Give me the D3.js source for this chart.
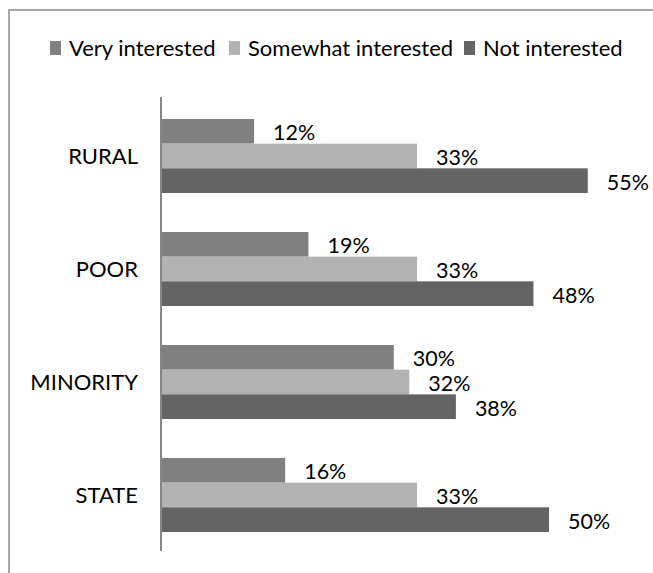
<!DOCTYPE html>
<html>
<head>
<meta charset="utf-8">
<script src="https://cdn.jsdelivr.net/npm/d3@7"></script>
<style>
  html, body { margin: 0; padding: 0; background: #fff; }
  svg { display: block; }
  text { font-family: Lato, "Open Sans", sans-serif; fill: #000; }
</style>
</head>
<body>
<svg id="chart" width="653" height="573"></svg>
<script>
// Survey categories (top to bottom)
const categories = ["RURAL", "POOR", "MINORITY", "STATE"];
// Series names, in legend / bar order
const seriesNames = ["Very interested", "Somewhat interested", "Not interested"];
// Percent values per category, one array per series
const veryInterested     = [12, 19, 30, 16];
const somewhatInterested = [33, 33, 32, 33];
const notInterested      = [55, 48, 38, 50];
const seriesColors = ["#808080", "#b3b3b3", "#646464"];

const seriesValues = [veryInterested, somewhatInterested, notInterested];
const rows = categories.map((c, i) => ({
  category: c,
  values: seriesNames.map((s, j) => ({ series: s, idx: j, value: seriesValues[j][i] }))
}));

const svg = d3.select("#chart");

// Outer frame
svg.append("rect")
  .attr("x", 9).attr("y", 10)
  .attr("width", 700).attr("height", 700)
  .attr("fill", "none")
  .attr("stroke", "#a6a6a6")
  .attr("stroke-width", 2);

// Scales
const x = d3.scaleLinear().domain([0, 60]).range([161, 626.6]);
const y = d3.scaleBand()
  .domain(categories)
  .range([99.5, 551.5])
  .paddingInner(0.345)
  .paddingOuter(0.1725);
const ySub = d3.scaleBand()
  .domain(seriesNames)
  .range([0, y.bandwidth()]);
const color = d3.scaleOrdinal().domain(seriesNames).range(seriesColors);

// Bars
const groups = svg.append("g").selectAll("g")
  .data(rows)
  .join("g")
  .attr("transform", d => `translate(0,${y(d.category)})`);

groups.selectAll("rect")
  .data(d => d.values)
  .join("rect")
  .attr("x", x(0))
  .attr("y", d => ySub(d.series))
  .attr("width", d => x(d.value) - x(0))
  .attr("height", ySub.bandwidth())
  .attr("fill", d => color(d.series));

// Value labels
groups.selectAll("text.value")
  .data(d => d.values)
  .join("text")
  .attr("class", "value")
  .attr("x", d => x(d.value) + 19)
  .attr("y", d => ySub(d.series) + ySub.bandwidth() / 2 + 1.5)
  .attr("dy", "0.35em")
  .attr("font-size", 21.5)
  .text(d => d.value + "%");

// Category axis (line only, labels on the left)
const yAxis = d3.axisLeft(y).tickSize(0).tickPadding(23);
const axisG = svg.append("g")
  .attr("transform", `translate(${x(0)},0)`)
  .call(yAxis);
axisG.select(".domain")
  .attr("d", `M0,97V551`)
  .attr("stroke", "#868686")
  .attr("stroke-width", 2);
axisG.selectAll(".tick text")
  .attr("font-family", "Lato, 'Open Sans', sans-serif")
  .attr("font-size", 22)
  .attr("fill", "#000")
  .attr("dy", "0.35em");

// Legend
const legendX = [50, 229, 464];
const legend = svg.append("g").selectAll("g")
  .data(seriesNames)
  .join("g")
  .attr("transform", (d, i) => `translate(${legendX[i]},41)`);
legend.append("rect")
  .attr("width", 11).attr("height", 14)
  .attr("fill", d => color(d));
legend.append("text")
  .attr("x", 19)
  .attr("y", 7)
  .attr("dy", "0.35em")
  .attr("font-size", 22)
  .text(d => d);
</script>
</body>
</html>
